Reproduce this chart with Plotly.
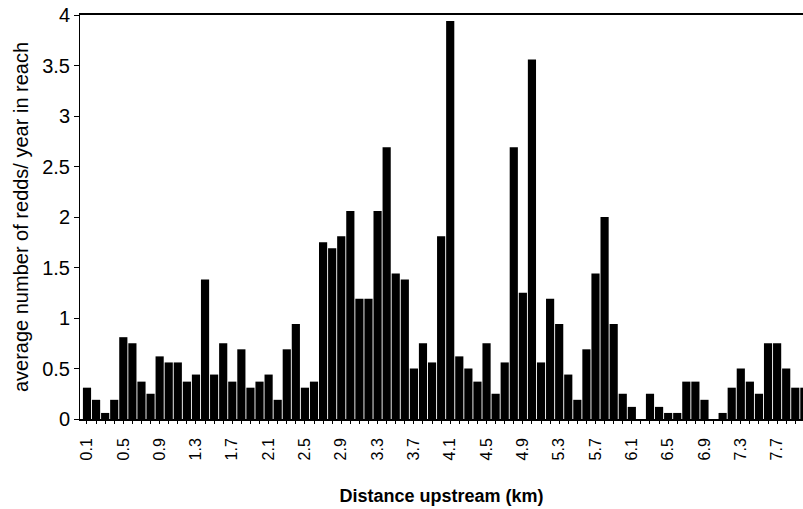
import plotly.graph_objects as go

distance_km = [round(0.1 * i, 1) for i in range(1, 81)]
redds = [0.31, 0.19, 0.06, 0.19, 0.81, 0.75, 0.37, 0.25, 0.62, 0.56,
         0.56, 0.37, 0.44, 1.38, 0.44, 0.75, 0.37, 0.69, 0.31, 0.37,
         0.44, 0.19, 0.69, 0.94, 0.31, 0.37, 1.75, 1.69, 1.81, 2.06,
         1.19, 1.19, 2.06, 2.69, 1.44, 1.38, 0.50, 0.75, 0.56, 1.81,
         3.94, 0.62, 0.50, 0.37, 0.75, 0.25, 0.56, 2.69, 1.25, 3.56,
         0.56, 1.19, 0.94, 0.44, 0.19, 0.69, 1.44, 2.00, 0.94, 0.25,
         0.12, 0.00, 0.25, 0.12, 0.06, 0.06, 0.37, 0.37, 0.19, 0.00,
         0.06, 0.31, 0.50, 0.37, 0.25, 0.75, 0.75, 0.50, 0.31, 0.31]
tick_labels = ["0.1", "0.5", "0.9", "1.3", "1.7", "2.1", "2.5", "2.9", "3.3", "3.7",
               "4.1", "4.5", "4.9", "5.3", "5.7", "6.1", "6.5", "6.9", "7.3", "7.7"]
y_ticks = [0, 0.5, 1, 1.5, 2, 2.5, 3, 3.5, 4]
y_tick_text = ["0", "0.5", "1", "1.5", "2", "2.5", "3", "3.5", "4"]

labelled = set(tick_labels)
tickvals = distance_km
ticktext = [f"{d:.1f}" if f"{d:.1f}" in labelled else "" for d in distance_km]

font = "Liberation Sans, DejaVu Sans, sans-serif"

fig = go.Figure(go.Bar(x=distance_km, y=redds, marker=dict(color="#000000", line=dict(width=0))))

fig.update_layout(
    width=803, height=509,
    margin=dict(l=80, r=0, t=15, b=90),
    paper_bgcolor="white", plot_bgcolor="white",
    bargap=0.1,
    showlegend=False,
    font=dict(family=font, color="#000000"),
)
fig.update_xaxes(
    range=[0.023, 7.985],
    automargin=False,
    tickmode="array", tickvals=tickvals, ticktext=ticktext,
    tickangle=-90, tickfont=dict(size=16, family=font),
    ticks="outside", ticklen=3, tickwidth=1, tickcolor="#000",
    ticklabelstandoff=8,
    showline=True, linecolor="#000", linewidth=1.5, mirror=True,
    showgrid=False, zeroline=False,
    title=dict(text="<b>Distance upstream (km)</b>",
               font=dict(size=18, family="Liberation Sans Narrow, Liberation Sans, sans-serif"),
               standoff=30),
)
fig.update_yaxes(
    range=[0, 4],
    automargin=False,
    tickmode="array", tickvals=y_ticks, ticktext=y_tick_text,
    tickfont=dict(size=20, family=font),
    ticklabeloverflow="allow",
    ticks="outside", ticklen=5, tickwidth=1, tickcolor="#000",
    showline=True, linecolor="#000", linewidth=1,
    showgrid=False, zeroline=False,
    title=dict(text="average number of redds/ year in reach",
               font=dict(size=20, family=font), standoff=8),
)

# remove the browser's default 8px body margin so the figure fills the window exactly
fig.write_html("out.html",
               config={"displayModeBar": False},
               post_script="document.body.style.margin='0px';document.body.style.overflow='hidden';")
